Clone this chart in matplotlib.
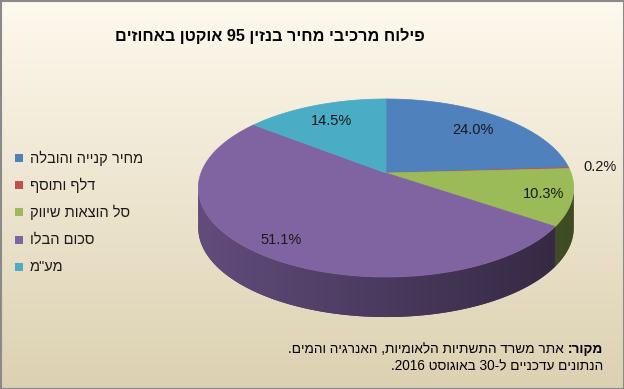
import re

import numpy as np
import matplotlib
matplotlib.use("Agg")
import matplotlib.pyplot as plt
from matplotlib.patches import Polygon, Rectangle
from matplotlib.colors import to_rgb

plt.rcParams["font.family"] = ["Liberation Sans", "DejaVu Sans"]

title = "פילוח מרכיבי מחיר בנזין 95 אוקטן באחוזים"
categories = ["מחיר קנייה והובלה", "דלף ותוסף", "סל הוצאות שיווק", "סכום הבלו", 'מע"מ']
values = [24.0, 0.2, 10.3, 51.1, 14.5]
colors = ["#4F81BD", "#C0504D", "#9BBB59", "#8064A2", "#4BACC6"]
source_bold = "מקור:"
source_line1 = " אתר משרד התשתיות הלאומיות, האנרגיה והמים."
source_line2 = "הנתונים עדכניים ל-30 באוגוסט 2016."

# pie geometry in pixels (perspective view of a flat disk)
CX, CY = 386, 173
A, B, P = 185, 86.5, 0.1685
DEPTH = 40
label_r = [0.75, 1.17, 0.85, 0.85, 0.75]


def rtl(s):
    # crude bidi: reverse hebrew runs, keep digit runs left-to-right
    parts = re.findall(r"\d+|\D+", s)
    return "".join(p if p[0].isdigit() else p[::-1] for p in reversed(parts))


def proj(r, theta, dy=0.0):
    X = r * np.sin(theta)
    v = -r * np.cos(theta)
    w = 1 - P * v
    return CX + A * X / w, CY + B * v / w + dy


fig = plt.figure(figsize=(6.24, 3.89), dpi=100)
ax = fig.add_axes([0, 0, 1, 1])
ax.set_xlim(0, 624)
ax.set_ylim(389, 0)
ax.axis("off")

# background gradient
top = np.array(to_rgb("#FEF9EE"))
bot = np.array(to_rgb("#DCD1B1"))
t = np.linspace(0, 1, 256)[:, None]
grad = (top * (1 - t) + bot * t)[:, None, :]
ax.imshow(grad, extent=[0, 624, 389, 0], aspect="auto", zorder=0)
ax.add_patch(Rectangle((0.5, 0.5), 623, 388, fill=False, ec="#8A8A8A", lw=1.5, zorder=10))

total = sum(values)
bounds = np.concatenate([[0], np.cumsum(values)]) / total * 2 * np.pi
vis_lo, vis_hi = np.arccos(-P), 2 * np.pi - np.arccos(-P)

# sides (front part of the rim), shaded darker to the right
xcol = np.linspace(CX - A * 1.02, CX + A * 1.02, 400)
for i, c in enumerate(colors):
    a0, a1 = max(bounds[i], vis_lo), min(bounds[i + 1], vis_hi)
    if a1 <= a0:
        continue
    th = np.linspace(a0, a1, 120)
    xs, ys = proj(1, th)
    pts = list(zip(xs, ys)) + list(zip(xs[::-1], ys[::-1] + DEPTH))
    poly = Polygon(pts, closed=True, fc=np.array(to_rgb(c)) * 0.5, ec="none", zorder=2)
    ax.add_patch(poly)
    f = 0.58 - 0.18 * np.clip((xcol - CX) / A, -1, 1)
    img = (np.array(to_rgb(c))[None, :] * f[:, None])[None, :, :]
    im = ax.imshow(img, extent=[xcol[0], xcol[-1], 330, 160], aspect="auto", zorder=2.1,
                   interpolation="bilinear")
    im.set_clip_path(poly)

# top faces
for i, c in enumerate(colors):
    th = np.linspace(bounds[i], bounds[i + 1], max(2, int((bounds[i + 1] - bounds[i]) * 60)))
    xs, ys = proj(1, th)
    pts = [(CX, CY)] + list(zip(xs, ys))
    ax.add_patch(Polygon(pts, closed=True, fc=c, ec=c, lw=0.5, zorder=3))

# data labels
for i, val in enumerate(values):
    mid = (bounds[i] + bounds[i + 1]) / 2
    lx, ly = proj(label_r[i], mid)
    ax.text(lx, ly, f"{val:.1f}%", ha="center", va="center", fontsize=10.5,
            color="#1A1A1A", zorder=5)

ax.text(270, 36, rtl(title), ha="center", va="center", fontsize=11.7,
        fontweight="bold", color="#000000", zorder=5)

# legend
for i, (name, c) in enumerate(zip(categories, colors)):
    y = 158 + i * 27.2
    ax.add_patch(Rectangle((15, y - 4), 8, 8, fc=c, ec="none", zorder=5))
    ax.text(30, y, rtl(name), ha="left", va="center", fontsize=10.5,
            color="#1A1A1A", zorder=5)

# source note
sb = ax.text(603, 349, rtl(source_bold), ha="right", va="center", fontsize=9.8,
             fontweight="bold", color="#000000", zorder=5)
ax.annotate(rtl(source_line1), xy=(0, 0.5), xycoords=sb, ha="right", va="center",
            fontsize=9.8, color="#000000", zorder=5)
ax.text(603, 366, rtl(source_line2), ha="right", va="center", fontsize=9.8,
        color="#000000", zorder=5)

fig.savefig("out.png", dpi=100)
